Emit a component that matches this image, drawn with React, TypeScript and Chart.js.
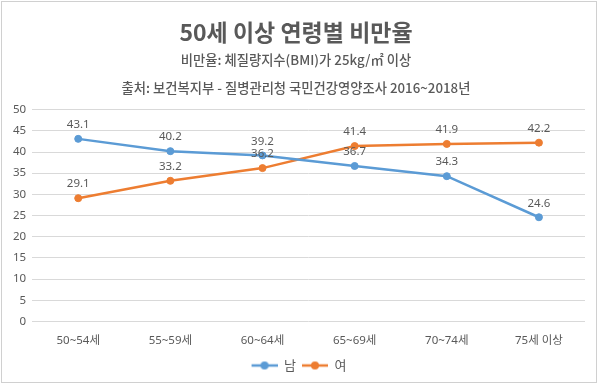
import React, { useEffect, useRef } from "react";
import { Chart, registerables } from "chart.js";

Chart.register(...registerables);

const categories = ["50~54세", "55~59세", "60~64세", "65~69세", "70~74세", "75세 이상"];
const maleValues = [43.1, 40.2, 39.2, 36.7, 34.3, 24.6];
const femaleValues = [29.1, 33.2, 36.2, 41.4, 41.9, 42.2];
const seriesNames = ["남", "여"];
const titleText = "50세 이상 연령별 비만율";
const subtitleLines = [
  "비만율: 체질량지수(BMI)가 25kg/㎡ 이상",
  "출처: 보건복지부 - 질병관리청 국민건강영양조사 2016~2018년",
];
const yMin = 0;
const yMax = 50;
const yStep = 5;

const BLUE = "#5B9BD5";
const ORANGE = "#ED7D31";
const TEXT = "#595959";
const GRID = "#D9D9D9";
const FONT = '"Noto Sans", "Noto Sans CJK KR", sans-serif';
const CJK = '"Noto Sans CJK KR", "Noto Sans", sans-serif';

const ICON_W = 32;

function legendIcon(color: string): HTMLCanvasElement {
  const c = document.createElement("canvas");
  c.width = ICON_W;
  c.height = 10;
  const g = c.getContext("2d")!;
  g.strokeStyle = color;
  g.lineWidth = 2.5;
  g.beginPath();
  g.moveTo(6, 5);
  g.lineTo(ICON_W, 5);
  g.stroke();
  g.fillStyle = color;
  g.beginPath();
  g.arc(6 + (ICON_W - 6) / 2, 5, 4, 0, Math.PI * 2);
  g.fill();
  return c;
}

const valueLabels = {
  id: "valueLabels",
  afterDatasetsDraw(chart: any) {
    const ctx = chart.ctx;
    ctx.save();
    ctx.font = `11.5px ${FONT}`;
    ctx.fillStyle = TEXT;
    ctx.textAlign = "center";
    ctx.textBaseline = "middle";
    chart.data.datasets.forEach((ds: any, i: number) => {
      const meta = chart.getDatasetMeta(i);
      meta.data.forEach((pt: any, j: number) => {
        ctx.fillText(String(ds.data[j]), pt.x, pt.y - 14);
      });
    });
    ctx.restore();
  },
};

const frame = {
  id: "frame",
  beforeDraw(chart: any) {
    const ctx = chart.ctx;
    ctx.save();
    ctx.fillStyle = "#FFFFFF";
    ctx.fillRect(0, 0, chart.width, chart.height);
    ctx.strokeStyle = "#D0D0D0";
    ctx.lineWidth = 1;
    ctx.strokeRect(1.5, 1.5, 595, 381);
    ctx.restore();
  },
};

export default function App() {
  const ref = useRef<HTMLCanvasElement | null>(null);

  useEffect(() => {
    document.body.style.margin = "0";
    if (!ref.current) return;
    const icons = [legendIcon(BLUE), legendIcon(ORANGE)];
    const chart = new Chart(ref.current, {
      type: "line",
      data: {
        labels: categories,
        datasets: [
          {
            label: seriesNames[0],
            data: maleValues,
            borderColor: BLUE,
            backgroundColor: BLUE,
            borderWidth: 2.5,
            pointRadius: 3.5,
            pointBorderWidth: 1,
            pointBackgroundColor: BLUE,
            pointBorderColor: BLUE,
            tension: 0,
          },
          {
            label: seriesNames[1],
            data: femaleValues,
            borderColor: ORANGE,
            backgroundColor: ORANGE,
            borderWidth: 2.5,
            pointRadius: 3.5,
            pointBorderWidth: 1,
            pointBackgroundColor: ORANGE,
            pointBorderColor: ORANGE,
            tension: 0,
          },
        ],
      },
      options: {
        responsive: false,
        animation: false,
        layout: { padding: { top: 18, left: 7, right: 15, bottom: 3 } },
        scales: {
          x: {
            offset: true,
            grid: { display: false, drawTicks: false },
            border: { display: false },
            ticks: { color: TEXT, font: { size: 11.5, family: FONT, lineHeight: 1.0 }, padding: 13 },
          },
          y: {
            min: yMin,
            max: yMax,
            ticks: { stepSize: yStep, color: TEXT, font: { size: 11.5, family: FONT }, padding: 6 },
            grid: { color: GRID, drawTicks: false },
            border: { display: false },
          },
        },
        plugins: {
          title: {
            display: true,
            text: titleText,
            color: TEXT,
            font: { size: 23, weight: "bold", family: CJK, lineHeight: 1.2 },
            padding: { top: 0, bottom: 1 },
          },
          subtitle: {
            display: true,
            text: subtitleLines,
            color: TEXT,
            font: { size: 13.3, weight: "500", family: CJK, lineHeight: 2.05 },
            padding: { top: 0, bottom: 8.5 },
          },
          legend: {
            position: "bottom",
            labels: {
              color: TEXT,
              font: { size: 13, family: CJK },
              usePointStyle: true,
              pointStyleWidth: ICON_W,
              boxHeight: 10,
              padding: 0,
              generateLabels(c: any) {
                const items = Chart.defaults.plugins.legend.labels.generateLabels(c);
                return items.map((it: any, i: number) => ({ ...it, pointStyle: icons[i] }));
              },
            },
          },
          tooltip: { enabled: false },
        },
      },
      plugins: [frame, valueLabels],
    });
    return () => chart.destroy();
  }, []);

  return (
    <div style={{ width: 600, height: 385 }}>
      <canvas ref={ref} width={600} height={385} />
    </div>
  );
}
